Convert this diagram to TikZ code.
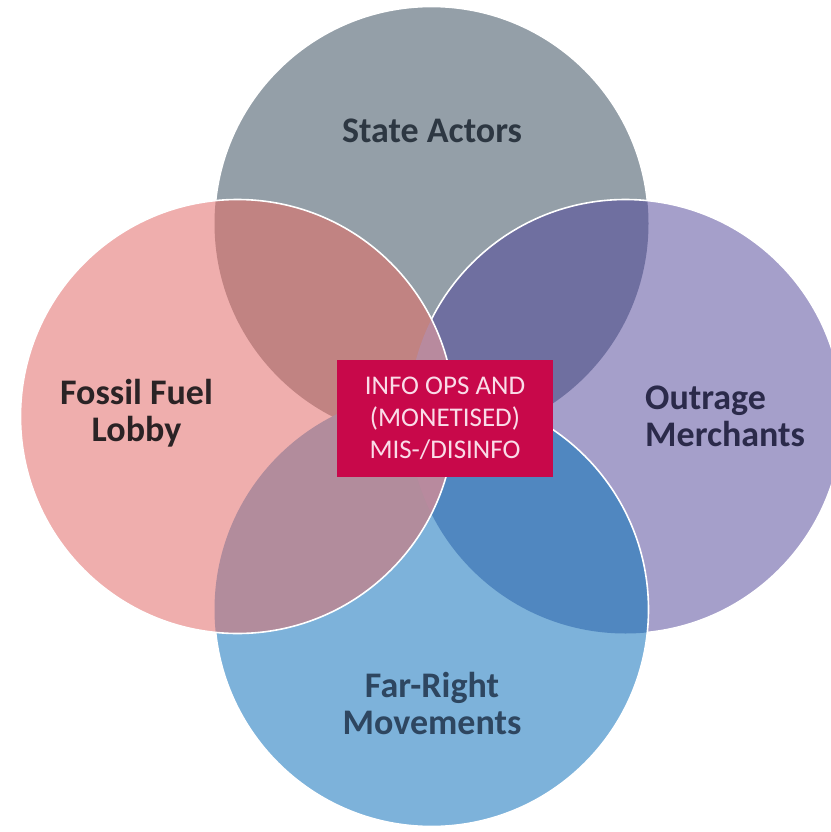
\documentclass[tikz,border=0pt]{standalone}
\usepackage{fontspec}
\setmainfont{Carlito}
\usetikzlibrary{positioning}

% circle colours
\definecolor{stategray}{HTML}{949FA8}
\definecolor{fossilpink}{HTML}{EFAEAD}
\definecolor{outragepurple}{HTML}{A59FCA}
\definecolor{farrightblue}{HTML}{7DB2DA}
% overlap colours
\definecolor{statefossil}{HTML}{C18382}
\definecolor{stateoutrage}{HTML}{6F6FA0}
\definecolor{fossilfarright}{HTML}{B28C9C}
\definecolor{outragefarright}{HTML}{5087C0}
\definecolor{fossiloutrage}{HTML}{B88A9E}
% text and box colours
\definecolor{infored}{HTML}{C8084A}
\definecolor{infotext}{HTML}{FADCE8}
\definecolor{stateink}{HTML}{2D3742}
\definecolor{fossilink}{HTML}{2B2325}
\definecolor{outrageink}{HTML}{2B2A4A}
\definecolor{farrightink}{HTML}{2E4660}

\begin{document}
\begin{tikzpicture}[
    x=1pt, y=-1pt, % one unit = one pixel, y pointing down
    outline/.style={white, line width=1.6pt}, % white rim of a circle
    circletext/.style={font=\bfseries\fontsize{36}{37}\selectfont,
      inner sep=0pt, text depth=0pt}, % labels of the circles
    infobox/.style={fill=infored, text=infotext, inner sep=0pt,
      minimum width=216pt, minimum height=117pt, align=center,
      font=\fontsize{27}{32}\selectfont} % box in the middle
]

    % Canvas
    \useasboundingbox (0,0) rectangle (830,832);
    \clip (-6,-6) rectangle (836,838);

    % Centres and radius
    \coordinate (state) at (431.5,223.5);
    \coordinate (outrage) at (625.5,416.5);
    \coordinate (farright) at (431.5,609.5);
    \coordinate (fossil) at (237.5,416.5);
    \def\rad{217pt}

    % State actors (bottom layer)
    \fill[stategray] (state) circle (\rad);
    \draw[outline] (state) circle (\rad);

    % Outrage merchants
    \fill[outragepurple] (outrage) circle (\rad);
    \begin{scope}
        \clip (outrage) circle (\rad);
        \fill[stateoutrage] (state) circle (\rad);
    \end{scope}
    \draw[outline] (outrage) circle (\rad);

    % Far-right movements
    \fill[farrightblue] (farright) circle (\rad);
    \begin{scope}
        \clip (farright) circle (\rad);
        \fill[outragefarright] (outrage) circle (\rad);
    \end{scope}
    \draw[outline] (farright) circle (\rad);

    % Fossil fuel lobby (top layer)
    \fill[fossilpink] (fossil) circle (\rad);
    \begin{scope}
        \clip (fossil) circle (\rad);
        \fill[statefossil] (state) circle (\rad);
        \fill[fossilfarright] (farright) circle (\rad);
        \fill[fossiloutrage] (outrage) circle (\rad);
    \end{scope}
    \draw[outline] (fossil) circle (\rad);

    % Labels
    \node[circletext, text=stateink, anchor=south] (statelabel) at (432,143) {State Actors};
    \node[circletext, text=fossilink, anchor=south, align=center] (fossillabel) at (136.5,442) {Fossil Fuel\\Lobby};
    \node[circletext, text=outrageink, anchor=south west, align=left] (outragelabel) at (645,447) {Outrage\\Merchants};
    \node[circletext, text=farrightink, anchor=south, align=center] (farrightlabel) at (432,735) {Far-Right\\Movements};

    % Centre box
    \node[infobox] (infoops) at (445,418.5) {INFO OPS AND\\(MONETISED)\\MIS-/DISINFO};

\end{tikzpicture}
\end{document}
